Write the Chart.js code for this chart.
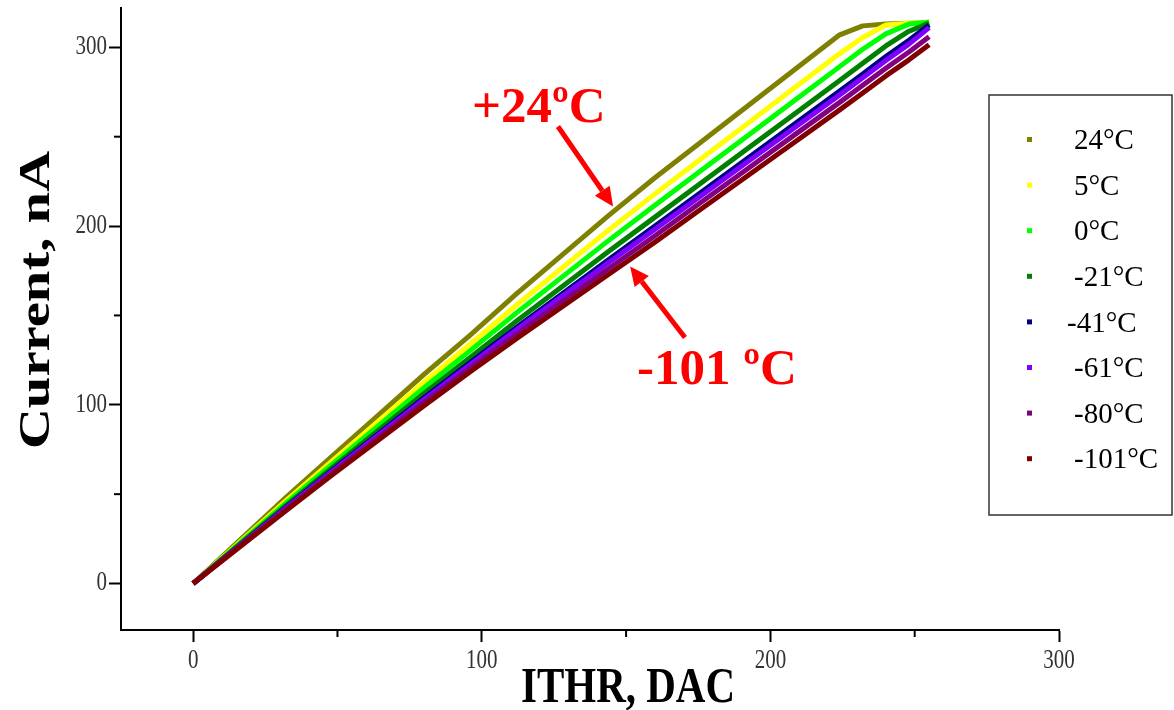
<!DOCTYPE html>
<html><head><meta charset="utf-8">
<script src="https://cdn.jsdelivr.net/npm/chart.js@4.4.1/dist/chart.umd.min.js"></script>
<style>html,body{margin:0;padding:0;background:#fff}</style>
</head><body>
<canvas id="c" width="1174" height="710"></canvas>
<script>
// ---- data ----
const dac   = [0, 16, 32, 48, 64, 80, 96, 112, 128, 144, 160, 176, 192, 208, 224, 232, 240, 248, 255];
const t24   = [0, 24, 48, 71, 94, 117, 139, 162, 184, 206, 227, 247, 267, 287, 307, 312, 313, 313.5, 314];
const t5    = [0, 23.1, 46.1, 68.4, 90.5, 112.6, 133.9, 155.8, 176.8, 197.8, 218, 237.6, 257.3, 276.9, 296.5, 305.5, 312.5, 313.5, 314];
const t0    = [0, 22.4, 44.8, 66.5, 88.1, 109.6, 130.3, 151.4, 171.7, 192, 211.7, 231.1, 250.4, 269.8, 289.2, 298.9, 307.5, 313, 314];
const tm21  = [0, 21.7, 43.4, 64.6, 85.5, 106.3, 126.5, 146.8, 166.3, 185.9, 205, 224.1, 243.2, 262.3, 281.4, 291.1, 300.8, 309, 313.5];
const tm41  = [0, 21.2, 42.4, 63.1, 83.5, 103.9, 123.6, 143.3, 162.3, 181.3, 200, 218.9, 237.8, 256.6, 275.5, 285.1, 294.8, 304, 312.5];
const tm61  = [0, 21.0, 42, 62.6, 82.8, 103, 122.6, 142, 160.8, 179.6, 198.2, 217, 235.8, 254.6, 273.4, 283, 292.6, 301.8, 311];
const tm80  = [0, 20.7, 41.3, 61.6, 81.4, 101.3, 120.6, 139.5, 157.9, 176.3, 194.6, 213.3, 231.9, 250.6, 269.2, 278.8, 288.3, 297.4, 305.9];
const tm101 = [0, 20.3, 40.5, 60.5, 80, 99.5, 118.5, 137, 155, 173, 191, 209.5, 228, 246.5, 265, 274.5, 284, 293, 301.5];
const seriesLabels = ['24°C', '5°C', '0°C', '-21°C', '-41°C', '-61°C', '-80°C', '-101°C'];
const seriesValues = [t24, t5, t0, tm21, tm41, tm61, tm80, tm101];
const seriesColors = ['#808000', '#ffff00', '#00ff00', '#008000', '#000080', '#8000ff', '#800080', '#800000'];
const xTickValues = [0, 50, 100, 150, 200, 250, 300];
const yTickValues = [0, 50, 100, 150, 200, 250, 300];
const xTitle = 'ITHR, DAC';
const yTitle = 'Current, nA';
const annotationTexts = ['+24ºC', '-101 ºC'];
// annotation anchors in data units
const annotTextPos = [[96.6, 258], [153.8, 111.4]];
const arrows = [[[126.4, 255.7], [145.5, 211]], [[170.4, 137.7], [151.4, 177.4]]];

const SERIF = '"Liberation Serif", "Times New Roman", serif';
const VSTRETCH = 1.26;

const datasets = seriesLabels.map((lab, i) => ({
  label: lab,
  data: dac.map((x, k) => ({x: x, y: seriesValues[i][k]})),
  borderColor: seriesColors[i],
  backgroundColor: seriesColors[i],
  borderWidth: 5,
  pointRadius: 0,
  tension: 0,
  borderJoinStyle: 'round',
  fill: false,
  order: seriesLabels.length - i
}));

function stretchedText(ctx, t, x, y, sx, sy) {
  ctx.save(); ctx.translate(x, y); ctx.scale(sx, sy); ctx.fillText(t, 0, 0); ctx.restore();
}

const extras = {
  id: 'extras',
  afterDraw(chart) {
    const ctx = chart.ctx;
    const xs = chart.scales.x, ys = chart.scales.y;
    ctx.save();
    // minor ticks
    ctx.strokeStyle = '#000'; ctx.lineWidth = 2;
    xTickValues.filter(v => v % 100 !== 0).forEach(v => {
      const px = xs.getPixelForValue(v);
      ctx.beginPath(); ctx.moveTo(px, ys.bottom); ctx.lineTo(px, ys.bottom + 7); ctx.stroke();
    });
    yTickValues.filter(v => v % 100 !== 0).forEach(v => {
      const py = ys.getPixelForValue(v);
      ctx.beginPath(); ctx.moveTo(xs.left, py); ctx.lineTo(xs.left - 7, py); ctx.stroke();
    });
    // tick labels
    ctx.fillStyle = '#333';
    ctx.font = '21px ' + SERIF;
    ctx.textBaseline = 'middle';
    ctx.textAlign = 'center';
    xTickValues.filter(v => v % 100 === 0).forEach(v => {
      stretchedText(ctx, String(v), xs.getPixelForValue(v), ys.bottom + 31, 1, VSTRETCH);
    });
    ctx.textAlign = 'right';
    yTickValues.filter(v => v % 100 === 0).forEach(v => {
      stretchedText(ctx, String(v), xs.left - 14, ys.getPixelForValue(v), 1, VSTRETCH);
    });
    // axis titles
    ctx.fillStyle = '#000';
    ctx.textAlign = 'center'; ctx.textBaseline = 'alphabetic';
    ctx.font = 'bold 41px ' + SERIF;
    stretchedText(ctx, xTitle, 628, 702, 1, VSTRETCH);
    ctx.save();
    ctx.translate(49, 300);
    ctx.rotate(-Math.PI / 2);
    ctx.font = 'bold 45px ' + SERIF;
    stretchedText(ctx, yTitle, 0, 0, VSTRETCH, 1);
    ctx.restore();
    // annotations
    ctx.fillStyle = '#ff0000'; ctx.strokeStyle = '#ff0000';
    ctx.font = 'bold 51px ' + SERIF;
    ctx.textAlign = 'left';
    annotationTexts.forEach((t, i) => {
      ctx.fillText(t, xs.getPixelForValue(annotTextPos[i][0]), ys.getPixelForValue(annotTextPos[i][1]));
    });
    arrows.forEach(a => {
      const x0 = xs.getPixelForValue(a[0][0]), y0 = ys.getPixelForValue(a[0][1]);
      const x1 = xs.getPixelForValue(a[1][0]), y1 = ys.getPixelForValue(a[1][1]);
      const ang = Math.atan2(y1 - y0, x1 - x0);
      const hl = 19, hw = 9;
      const bx = x1 - hl * Math.cos(ang), by = y1 - hl * Math.sin(ang);
      ctx.lineWidth = 5;
      ctx.beginPath(); ctx.moveTo(x0, y0); ctx.lineTo(bx, by); ctx.stroke();
      ctx.beginPath();
      ctx.moveTo(x1, y1);
      ctx.lineTo(bx + hw * Math.sin(ang), by - hw * Math.cos(ang));
      ctx.lineTo(bx - hw * Math.sin(ang), by + hw * Math.cos(ang));
      ctx.closePath(); ctx.fill();
    });
    // legend
    ctx.strokeStyle = '#333'; ctx.lineWidth = 1.5;
    ctx.strokeRect(989, 95, 183, 420);
    ctx.font = '29px ' + SERIF;
    ctx.textBaseline = 'middle';
    seriesLabels.forEach((lab, i) => {
      const y = 139.5 + i * 45.6;
      ctx.fillStyle = seriesColors[i];
      ctx.fillRect(1027, y - 2.5, 5, 5);
      ctx.fillStyle = '#000';
      ctx.fillText(lab, i === 4 ? 1067 : 1074, y + 2);
    });
    ctx.restore();
  }
};

new Chart(document.getElementById('c'), {
  type: 'line',
  data: { datasets },
  options: {
    responsive: false,
    devicePixelRatio: 1,
    animation: false,
    layout: { padding: { left: 0, right: 115, top: 8, bottom: 0 } },
    plugins: { legend: { display: false }, tooltip: { enabled: false } },
    scales: {
      x: {
        type: 'linear', min: -25, max: 300,
        border: { display: true, color: '#000', width: 2 },
        grid: { drawOnChartArea: false, drawTicks: true, tickLength: 12, tickWidth: 2,
                tickColor: c => (c.tick && c.tick.value % 100 === 0) ? '#000' : 'rgba(0,0,0,0)' },
        ticks: { display: false },
        afterBuildTicks: s => { s.ticks = xTickValues.map(v => ({ value: v })); },
        afterFit: s => { s.height = 80; s.paddingLeft = 0; s.paddingRight = 0; }
      },
      y: {
        type: 'linear', min: -26, max: 322,
        border: { display: true, color: '#000', width: 2 },
        grid: { drawOnChartArea: false, drawTicks: true, tickLength: 12, tickWidth: 2,
                tickColor: c => (c.tick && c.tick.value % 100 === 0) ? '#000' : 'rgba(0,0,0,0)' },
        ticks: { display: false },
        afterBuildTicks: s => { s.ticks = yTickValues.map(v => ({ value: v })); },
        afterFit: s => { s.width = 121; s.paddingTop = 0; s.paddingBottom = 0; }
      }
    }
  },
  plugins: [extras]
});
</script>
</body></html>
